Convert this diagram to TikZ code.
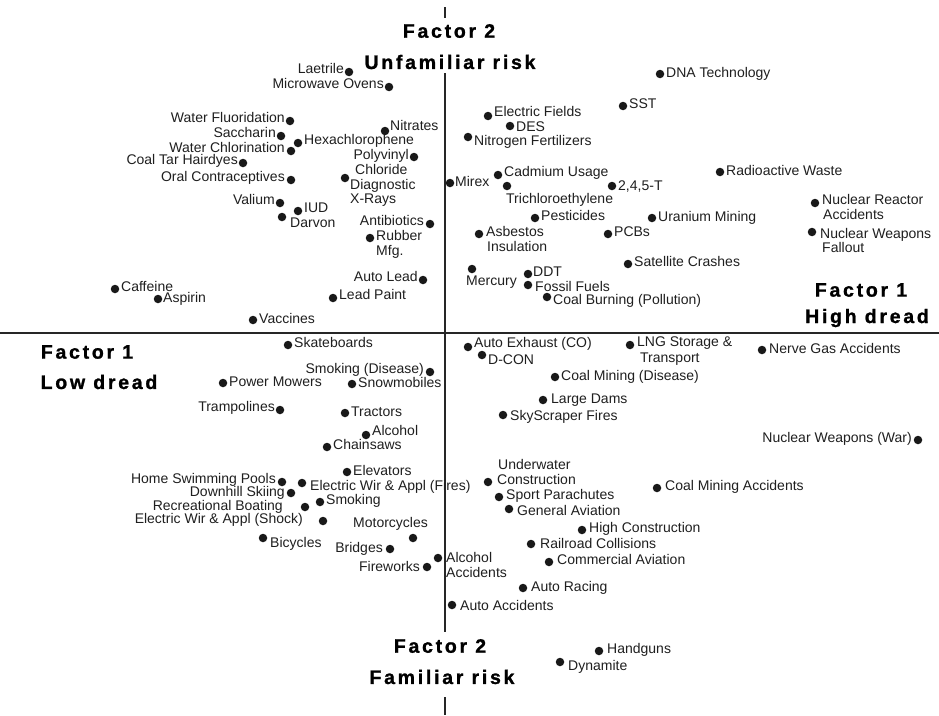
\documentclass[tikz,border=0pt]{standalone}
\usepackage{fontspec}
\newfontfamily\lblfont{Liberation Sans}
\newfontfamily\ttlfont[LetterSpace=14,FakeBold=1.2]{Liberation Sans Bold}
\begin{document}
\begin{tikzpicture}[x=1pt,y=-1pt,
  dot/.style={circle,fill=black!90,inner sep=0pt,minimum size=8.5pt},
  lbl/.style={font=\lblfont\fontsize{14}{16}\selectfont,text=black!88,inner sep=0pt},
  lw/.style={lbl,anchor=mid west},
  le/.style={lbl,anchor=mid east},
  ttl/.style={font=\ttlfont\fontsize{19.5}{22}\selectfont,inner sep=0pt},
  axis/.style={line width=2pt,black!85}]
\fill[white] (0,0) rectangle (939,715);
\useasboundingbox (0,0) rectangle (939,715);

% axes
\coordinate (vtop1) at (445,7);   \coordinate (vtop2) at (445,18);
\coordinate (vtop) at (445,73);   \coordinate (vbot) at (445,632);
\coordinate (vbot1) at (445,697); \coordinate (vbot2) at (445,715);
\coordinate (hl) at (0,333);      \coordinate (hr) at (939,333);
\draw[axis] (vtop1) -- (vtop2);
\draw[axis] (vtop) -- (vbot);
\draw[axis] (vbot1) -- (vbot2);
\draw[axis] (hl) -- (hr);

% axis titles
\node[ttl] (f2t) at (449,31) {Factor 2};
\node[ttl] (f2tl) at (450,62) {Unfamiliar risk};
\node[ttl] (f2b) at (440,646) {Factor 2};
\node[ttl] (f2bl) at (442,677) {Familiar risk};
\node[ttl] (f1r) at (861,290) {Factor 1};
\node[ttl] (f1rl) at (867,318) {High dread};
\node[ttl] (f1l) at (87,352) {Factor 1};
\node[ttl] (f1ll) at (99,382) {Low dread};

% upper left quadrant
\node[dot] (laet) at (349,72) {};  \node[le] (laet-l) at (344,71) {Laetrile};
\node[dot] (micro) at (389,87) {}; \node[le] (micro-l) at (384,86) {Microwave Ovens};
\node[dot] (wfl) at (290,121) {};  \node[le] (wfl-l) at (285,120) {Water Fluoridation};
\node[dot] (sacc) at (281,136) {}; \node[le] (sacc-l) at (276,135) {Saccharin};
\node[dot] (hexa) at (298,143) {}; \node[lw] (hexa-l) at (304,142) {Hexachlorophene};
\node[dot] (nitr) at (385,131) {}; \node[lw] (nitr-l) at (390,128) {Nitrates};
\node[dot] (wch) at (291,151) {};  \node[le] (wch-l) at (285,150) {Water Chlorination};
\node[dot] (pvc) at (414,157) {};  \node[le] (pvc-l) at (409,157) {Polyvinyl};
                                   \node[lw] (pvc-l2) at (355,172) {Chloride};
\node[dot] (ctar) at (243,163) {}; \node[le] (ctar-l) at (238,162) {Coal Tar Hairdyes};
\node[dot] (oral) at (291,180) {}; \node[le] (oral-l) at (285,179) {Oral Contraceptives};
\node[dot] (xray) at (345,178) {}; \node[lw] (xray-l) at (350,187) {Diagnostic};
                                   \node[lw] (xray-l2) at (350,201) {X-Rays};
\node[dot] (val) at (280,203) {};  \node[le] (val-l) at (275,202) {Valium};
\node[dot] (iud) at (298,211) {};  \node[lw] (iud-l) at (304,210) {IUD};
\node[dot] (darv) at (282,217) {}; \node[lw] (darv-l) at (290,225) {Darvon};
\node[dot] (anti) at (430,224) {}; \node[le] (anti-l) at (424,223) {Antibiotics};
\node[dot] (rub) at (370,238) {};  \node[lw] (rub-l) at (376,238) {Rubber};
                                   \node[lw] (rub-l2) at (376,253) {Mfg.};
\node[dot] (alead) at (423,280) {};\node[le] (alead-l) at (418,279) {Auto Lead};
\node[dot] (lpaint) at (333,298) {};\node[lw] (lpaint-l) at (339,297) {Lead Paint};
\node[dot] (caff) at (115,289) {}; \node[lw] (caff-l) at (121,289) {Caffeine};
\node[dot] (asp) at (158,299) {};  \node[lw] (asp-l) at (163,300) {Aspirin};
\node[dot] (vacc) at (253,320) {}; \node[lw] (vacc-l) at (259,321) {Vaccines};

% upper right quadrant
\node[dot] (dna) at (660,74) {};   \node[lw] (dna-l) at (666,75) {DNA Technology};
\node[dot] (sst) at (623,106) {};  \node[lw] (sst-l) at (629,106) {SST};
\node[dot] (efld) at (488,116) {}; \node[lw] (efld-l) at (494,114) {Electric Fields};
\node[dot] (des) at (510,126) {};  \node[lw] (des-l) at (516,129) {DES};
\node[dot] (nfert) at (468,137) {};\node[lw] (nfert-l) at (474,143) {Nitrogen Fertilizers};
\node[dot] (cadm) at (498,175) {}; \node[lw] (cadm-l) at (504,174) {Cadmium Usage};
\node[dot] (mirex) at (450,183) {};\node[lw] (mirex-l) at (455,184) {Mirex};
\node[dot] (tce) at (507,186) {};  \node[lw] (tce-l) at (506,201) {Trichloroethylene};
\node[dot] (t245) at (612,186) {}; \node[lw] (t245-l) at (618,188) {2,4,5-T};
\node[dot] (radw) at (720,172) {}; \node[lw] (radw-l) at (726,173) {Radioactive Waste};
\node[dot] (nra) at (815,203) {};  \node[lw] (nra-l) at (822,202) {Nuclear Reactor};
                                   \node[lw] (nra-l2) at (823,217) {Accidents};
\node[dot] (pest) at (535,218) {}; \node[lw] (pest-l) at (541,218) {Pesticides};
\node[dot] (uran) at (652,218) {}; \node[lw] (uran-l) at (658,219) {Uranium Mining};
\node[dot] (asb) at (479,234) {};  \node[lw] (asb-l) at (486,234) {Asbestos};
                                   \node[lw] (asb-l2) at (487,249) {Insulation};
\node[dot] (pcb) at (608,234) {};  \node[lw] (pcb-l) at (614,234) {PCBs};
\node[dot] (nwf) at (812,232) {};  \node[lw] (nwf-l) at (820,236) {Nuclear Weapons};
                                   \node[lw] (nwf-l2) at (822,250) {Fallout};
\node[dot] (sat) at (628,264) {};  \node[lw] (sat-l) at (634,264) {Satellite Crashes};
\node[dot] (merc) at (472,269) {}; \node[lw] (merc-l) at (466,283) {Mercury};
\node[dot] (ddt) at (528,274) {};  \node[lw] (ddt-l) at (533,274) {DDT};
\node[dot] (fossil) at (528,285) {};\node[lw] (fossil-l) at (535,289) {Fossil Fuels};
\node[dot] (coalb) at (547,297) {};\node[lw] (coalb-l) at (553,302) {Coal Burning (Pollution)};

% lower left quadrant
\node[dot] (skate) at (288,345) {};\node[lw] (skate-l) at (294,345) {Skateboards};
\node[dot] (smkd) at (430,372) {}; \node[le] (smkd-l) at (424,371) {Smoking (Disease)};
\node[dot] (mow) at (223,383) {};  \node[lw] (mow-l) at (229,384) {Power Mowers};
\node[dot] (snow) at (352,384) {}; \node[lw] (snow-l) at (358,385) {Snowmobiles};
\node[dot] (tramp) at (280,410) {};\node[le] (tramp-l) at (275,409) {Trampolines};
\node[dot] (tract) at (345,413) {};\node[lw] (tract-l) at (351,414) {Tractors};
\node[dot] (alc) at (366,435) {};  \node[lw] (alc-l) at (372,433) {Alcohol};
\node[dot] (chain) at (327,447) {};\node[lw] (chain-l) at (333,447) {Chainsaws};
\node[dot] (elev) at (347,472) {}; \node[lw] (elev-l) at (353,473) {Elevators};
\node[dot] (pool) at (282,482) {}; \node[le] (pool-l) at (276,481) {Home Swimming Pools};
\node[dot] (ewf) at (302,483) {};  \node[lw] (ewf-l) at (310,488) {Electric Wir \& Appl (Fires)};
\node[dot] (ski) at (291,493) {};  \node[le] (ski-l) at (285,494) {Downhill Skiing};
\node[dot] (smk) at (320,502) {};  \node[lw] (smk-l) at (326,502) {Smoking};
\node[dot] (boat) at (305,507) {}; \node[le] (boat-l) at (283,508) {Recreational Boating};
\node[dot] (ews) at (323,521) {};  \node[le] (ews-l) at (303,521) {Electric Wir \& Appl (Shock)};
\node[dot] (moto) at (413,538) {}; \node[lw] (moto-l) at (353,525) {Motorcycles};
\node[dot] (bike) at (263,538) {}; \node[lw] (bike-l) at (270,545) {Bicycles};
\node[dot] (bridge) at (390,549) {};\node[le] (bridge-l) at (383,550) {Bridges};
\node[dot] (fire) at (427,567) {}; \node[le] (fire-l) at (420,569) {Fireworks};
\node[dot] (alca) at (438,558) {}; \node[lw] (alca-l) at (446,560) {Alcohol};
                                   \node[lw] (alca-l2) at (446,575) {Accidents};
\node[dot] (autoa) at (452,605) {};\node[lw] (autoa-l) at (460,608) {Auto Accidents};

% lower right quadrant
\node[dot] (aexh) at (468,347) {}; \node[lw] (aexh-l) at (474,345) {Auto Exhaust (CO)};
\node[dot] (dcon) at (482,355) {}; \node[lw] (dcon-l) at (488,362) {D-CON};
\node[dot] (lng) at (630,345) {};  \node[lw] (lng-l) at (637,344) {LNG Storage \&};
                                   \node[lw] (lng-l2) at (640,360) {Transport};
\node[dot] (nerve) at (762,350) {};\node[lw] (nerve-l) at (769,351) {Nerve Gas Accidents};
\node[dot] (cmd) at (555,377) {};  \node[lw] (cmd-l) at (561,378) {Coal Mining (Disease)};
\node[dot] (dams) at (543,400) {}; \node[lw] (dams-l) at (551,401) {Large Dams};
\node[dot] (sky) at (503,415) {};  \node[lw] (sky-l) at (510,418) {SkyScraper Fires};
\node[dot] (nww) at (918,440) {};  \node[le] (nww-l) at (912,440) {Nuclear Weapons (War)};
\node[dot] (uwc) at (488,482) {};  \node[lw] (uwc-l) at (498,467) {Underwater};
                                   \node[lw] (uwc-l2) at (497,482) {Construction};
\node[dot] (para) at (499,497) {}; \node[lw] (para-l) at (506,497) {Sport Parachutes};
\node[dot] (gav) at (509,509) {};  \node[lw] (gav-l) at (517,513) {General Aviation};
\node[dot] (cma) at (657,488) {};  \node[lw] (cma-l) at (665,488) {Coal Mining Accidents};
\node[dot] (hcon) at (582,530) {}; \node[lw] (hcon-l) at (589,530) {High Construction};
\node[dot] (rail) at (531,544) {}; \node[lw] (rail-l) at (540,546) {Railroad Collisions};
\node[dot] (cav) at (549,562) {};  \node[lw] (cav-l) at (557,562) {Commercial Aviation};
\node[dot] (race) at (523,588) {}; \node[lw] (race-l) at (531,589) {Auto Racing};
\node[dot] (gun) at (599,651) {};  \node[lw] (gun-l) at (607,651) {Handguns};
\node[dot] (dyn) at (560,662) {};  \node[lw] (dyn-l) at (568,668) {Dynamite};
\end{tikzpicture}
\end{document}
